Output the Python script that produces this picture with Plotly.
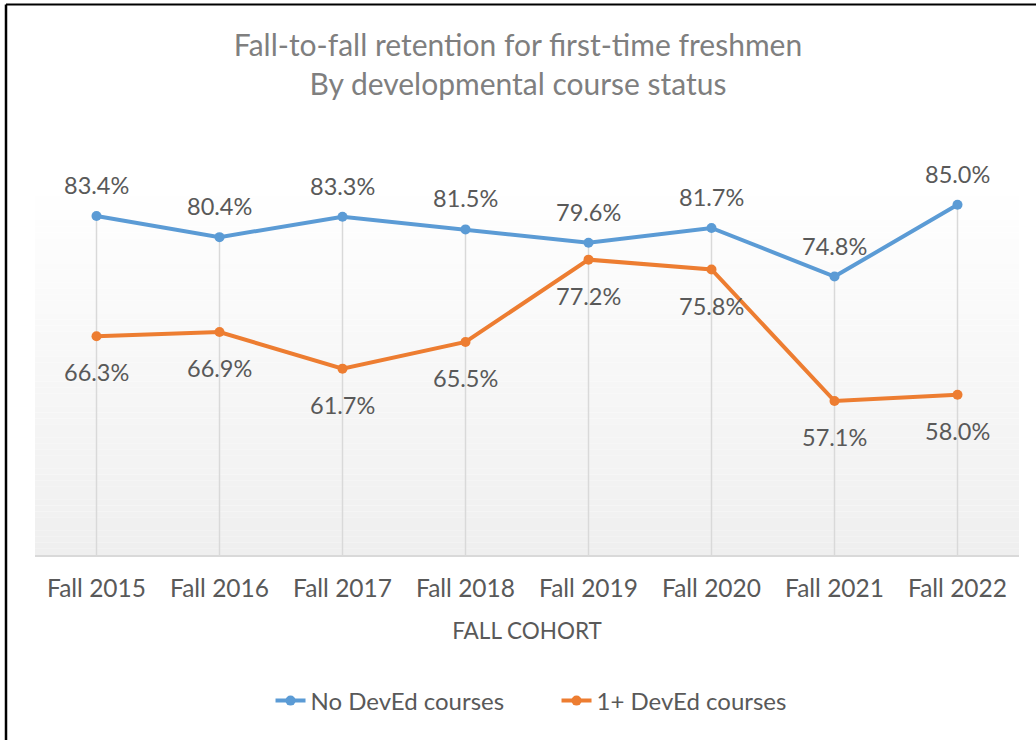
import plotly.graph_objects as go

categories = ["Fall 2015", "Fall 2016", "Fall 2017", "Fall 2018",
              "Fall 2019", "Fall 2020", "Fall 2021", "Fall 2022"]
no_deved = [83.4, 80.4, 83.3, 81.5, 79.6, 81.7, 74.8, 85.0]
one_plus_deved = [66.3, 66.9, 61.7, 65.5, 77.2, 75.8, 57.1, 58.0]

BLUE = "#5b9bd5"
ORANGE = "#ed7d31"
TEXT = "#595959"
FONT = "Lato"
Y_MIN, Y_MAX = 35.2, 88.1

W, H = 1036, 740
ML, MR, MT, MB = 35, 17, 183, 185
PW, PH = W - ML - MR, H - MT - MB

fig = go.Figure()

# drop lines from axis to highest point of each category
dx, dy = [], []
for c, a, b in zip(categories, no_deved, one_plus_deved):
    dx += [c, c, None]
    dy += [Y_MIN, max(a, b), None]
fig.add_trace(go.Scatter(x=dx, y=dy, mode="lines",
                         line=dict(color="#d9d9d9", width=1.5),
                         hoverinfo="skip", showlegend=False))

fig.add_trace(go.Scatter(x=categories, y=no_deved, mode="lines+markers",
                         name="No DevEd courses",
                         line=dict(color=BLUE, width=4),
                         marker=dict(color=BLUE, size=10)))
fig.add_trace(go.Scatter(x=categories, y=one_plus_deved, mode="lines+markers",
                         name="1+ DevEd courses",
                         line=dict(color=ORANGE, width=4),
                         marker=dict(color=ORANGE, size=10)))

annotations = []
for c, v in zip(categories, no_deved):
    annotations.append(dict(x=c, y=v, text=f"{v:.1f}%", showarrow=False,
                            yshift=31, font=dict(family=FONT, size=23.5, color=TEXT)))
for c, v in zip(categories, one_plus_deved):
    annotations.append(dict(x=c, y=v, text=f"{v:.1f}%", showarrow=False,
                            yshift=-36, font=dict(family=FONT, size=23.5, color=TEXT)))

# gradient background of plot area
shapes = []
n = 60
for i in range(n):
    t = i / n
    g = int(round(255 - (255 - 239) * (1 - (i + 0.5) / n)))
    shapes.append(dict(type="rect", xref="paper", yref="paper",
                       x0=0, x1=1, y0=t, y1=(i + 1) / n,
                       fillcolor=f"rgb({g},{g},{g})", line=dict(width=0),
                       layer="below"))

# outer frame (top and left edges visible)
bx = (6 - ML) / PW
by = (H - MB - 4.5) / PH
shapes.append(dict(type="line", xref="paper", yref="paper",
                   x0=bx, x1=(W + 10 - ML) / PW, y0=by, y1=by,
                   line=dict(color="black", width=2)))
shapes.append(dict(type="line", xref="paper", yref="paper",
                   x0=bx, x1=bx, y0=by, y1=-(MB + 10) / PH,
                   line=dict(color="black", width=2.5)))

fig.update_layout(
    width=W, height=H,
    margin=dict(l=ML, r=MR, t=MT, b=MB),
    paper_bgcolor="white", plot_bgcolor="white",
    title=dict(text="Fall-to-fall retention for first-time freshmen<br>By developmental course status",
               x=0.5, xanchor="center", y=1 - 56 / H, yanchor="middle",
               font=dict(family=FONT, size=30, color="#7f7f7f")),
    font=dict(family=FONT, color=TEXT),
    showlegend=True,
    legend=dict(orientation="h", x=0.53, xanchor="center",
                y=-(701 - (H - MB)) / PH, yanchor="middle",
                entrywidth=241,
                font=dict(family=FONT, size=24, color=TEXT),
                bgcolor="rgba(0,0,0,0)"),
    annotations=annotations,
    shapes=shapes,
    xaxis=dict(type="category", categoryorder="array", categoryarray=categories,
               range=[-0.5, len(categories) - 0.5],
               showgrid=False, showline=True, linecolor="#d9d9d9", linewidth=2,
               zeroline=False, ticks="", ticklabelstandoff=11,
               tickfont=dict(family=FONT, size=24.5, color=TEXT),
               title=dict(text="FALL COHORT", standoff=22,
                          font=dict(family=FONT, size=22.5, color=TEXT))),
    yaxis=dict(range=[Y_MIN, Y_MAX], visible=False, showgrid=False, zeroline=False),
)

fig.write_html("out.html", config={"displayModeBar": False},
               post_script="document.body.style.margin='0';document.body.style.overflow='hidden';")
